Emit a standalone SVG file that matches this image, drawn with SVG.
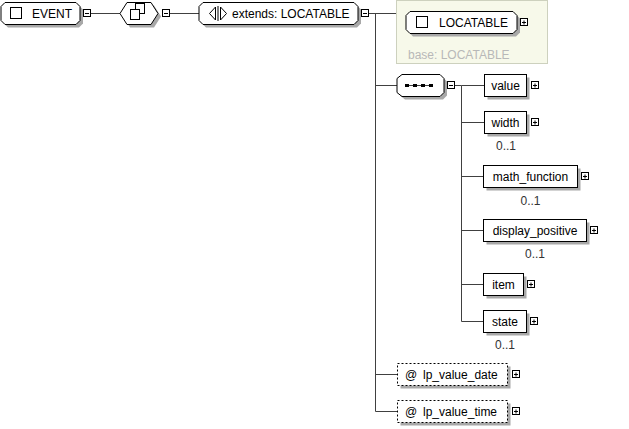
<svg xmlns="http://www.w3.org/2000/svg" width="629" height="429" viewBox="0 0 629 429">
<style>
text{font-family:"Liberation Sans",Arial,sans-serif;font-size:12px;fill:#000}
.nd{fill:#fff;stroke:#000;stroke-width:1}
.sh{fill:#a8a8a8;stroke:none}
.att{fill:#fff;stroke:#000;stroke-width:1;stroke-dasharray:2,2}
.bx{fill:#fff;stroke:#000;stroke-width:1}
.pm{fill:none;stroke:#000;stroke-width:1}
.cn{fill:none;stroke:#404040;stroke-width:1}
.oc{fill:#333}
.mid{text-anchor:middle}
.base{fill:#b8b8b8}
</style>
<rect width="629" height="429" fill="#fff"/>
<g id="connectors">
<path class="cn" d="M91,13.5H120M170,13.5H199M369,13.5H396.5M375.5,13.5V411.5M375.5,85.5H397M375.5,374.5H397.5M375.5,411.5H397.5"/>
<path class="cn" d="M454,85.5H461.5M461.5,85.5V321.5M461.5,122.5H484M461.5,176.5H484M461.5,230.5H484M461.5,284.5H484M461.5,321.5H484M461.5,85.5H484"/>
</g>
<g id="EVENT">
<path class="sh" d="M8,5.5H79L83,9.5V23.5L79,27.5H8L4,23.5V9.5Z"/>
<path class="nd" d="M5,2.5H76L80,6.5V20.5L76,24.5H5L1,20.5V6.5Z"/>
<rect class="bx" x="10.5" y="7.5" width="11" height="11"/>
<text x="32" y="18">EVENT</text>
<rect class="bx" x="83.5" y="9.5" width="7" height="7"/>
<path class="pm" d="M85,13.5H89"/>
</g>
<g id="all">
<path class="sh" d="M123,16.5L130,5.5H154L161,16.5L154,27.5H130Z"/>
<path class="nd" d="M120,13.5L127,2.5H151L158,13.5L151,24.5H127Z"/>
<rect class="bx" x="135.5" y="3.5" width="9" height="10"/>
<rect class="bx" x="130.5" y="9.5" width="9" height="10"/>
<rect class="bx" x="162.5" y="9.5" width="7" height="7"/>
<path class="pm" d="M164,13.5H168"/>
</g>
<g id="extends">
<path class="sh" d="M206,5.5H357L361,9.5V23.5L357,27.5H206L202,23.5V9.5Z"/>
<path class="nd" d="M203,2.5H354L358,6.5V20.5L354,24.5H203L199,20.5V6.5Z"/>
<path class="pm" d="M215.5,7L209.5,13.5L215.5,20ZM220.5,7L226.5,13.5L220.5,20ZM218,6V21"/>
<text x="232" y="18">extends: LOCATABLE</text>
<rect class="bx" x="361.5" y="9.5" width="7" height="7"/>
<path class="pm" d="M363,13.5H367"/>
</g>
<g id="LOCATABLE">
<rect x="396.5" y="0.5" width="151" height="63" fill="#f7f9ea" stroke="#cdd1be"/>
<path class="sh" d="M413,14.5H516L520,18.5V32.5L516,36.5H413L409,32.5V18.5Z"/>
<path class="nd" d="M410,11.5H513L517,15.5V29.5L513,33.5H410L406,29.5V15.5Z"/>
<rect class="bx" x="416.5" y="16.5" width="11" height="11"/>
<text x="439" y="27">LOCATABLE</text>
<rect class="bx" x="520.5" y="18.5" width="7" height="7"/>
<path class="pm" d="M522,22.5H526M524,20.5V24.5"/>
<text class="base" x="408" y="59">base: LOCATABLE</text>
</g>
<g id="sequence">
<path class="sh" d="M405,77.5H443L447,81.5V95.5L443,99.5H405L400,95.5V81.5Z"/>
<path class="nd" d="M402,74.5H440L444,78.5V92.5L440,96.5H402L397,92.5V78.5Z"/>
<path class="cn" stroke="#000" d="M405,85.5H433"/>
<rect x="405" y="84" width="4" height="3" fill="#000"/>
<rect x="413" y="84" width="4" height="3" fill="#000"/>
<rect x="421" y="84" width="4" height="3" fill="#000"/>
<rect x="429" y="84" width="4" height="3" fill="#000"/>
<rect class="bx" x="447.5" y="81.5" width="7" height="7"/>
<path class="pm" d="M449,85.5H453"/>
</g>
<g id="value">
<rect class="sh" x="487.5" y="77.5" width="42" height="22"/>
<rect class="nd" x="484.5" y="74.5" width="42" height="22"/>
<text class="mid" x="505.5" y="90">value</text>
<rect class="bx" x="531.5" y="81.5" width="7" height="7"/>
<path class="pm" d="M533,85.5H537M535,83.5V87.5"/>
</g>
<g id="width">
<rect class="sh" x="487.5" y="114.5" width="42" height="22"/>
<rect class="nd" x="484.5" y="111.5" width="42" height="22"/>
<text class="mid" x="505.5" y="127">width</text>
<rect class="bx" x="531.5" y="118.5" width="7" height="7"/>
<path class="pm" d="M533,122.5H537M535,120.5V124.5"/>
<text class="mid oc" x="506" y="150">0..1</text>
</g>
<g id="math_function">
<rect class="sh" x="486.5" y="168.5" width="94" height="22"/>
<rect class="nd" x="483.5" y="165.5" width="94" height="22"/>
<text class="mid" x="530.5" y="181">math_function</text>
<rect class="bx" x="581.5" y="172.5" width="7" height="7"/>
<path class="pm" d="M583,176.5H587M585,174.5V178.5"/>
<text class="mid oc" x="530.5" y="205">0..1</text>
</g>
<g id="display_positive">
<rect class="sh" x="486.5" y="222.5" width="103" height="22"/>
<rect class="nd" x="483.5" y="219.5" width="103" height="22"/>
<text class="mid" x="535" y="235">display_positive</text>
<rect class="bx" x="590.5" y="226.5" width="7" height="7"/>
<path class="pm" d="M592,230.5H596M594,228.5V232.5"/>
<text class="mid oc" x="535" y="258">0..1</text>
</g>
<g id="item">
<rect class="sh" x="486.5" y="276.5" width="40" height="22"/>
<rect class="nd" x="483.5" y="273.5" width="40" height="22"/>
<text class="mid" x="503.5" y="289">item</text>
<rect class="bx" x="527.5" y="280.5" width="7" height="7"/>
<path class="pm" d="M529,284.5H533M531,282.5V286.5"/>
</g>
<g id="state">
<rect class="sh" x="486.5" y="313.5" width="43" height="22"/>
<rect class="nd" x="483.5" y="310.5" width="43" height="22"/>
<text class="mid" x="505" y="326">state</text>
<rect class="bx" x="530.5" y="317.5" width="7" height="7"/>
<path class="pm" d="M532,321.5H536M534,319.5V323.5"/>
<text class="mid oc" x="505" y="349">0..1</text>
</g>
<g id="lp_value_date">
<rect class="sh" x="400.5" y="366.5" width="110" height="22"/>
<rect class="att" x="397.5" y="363.5" width="110" height="22"/>
<text x="405" y="379">@<tspan x="423">lp_value_date</tspan></text>
<rect class="bx" x="512.5" y="370.5" width="7" height="7"/>
<path class="pm" d="M514,374.5H518M516,372.5V376.5"/>
</g>
<g id="lp_value_time">
<rect class="sh" x="400.5" y="403.5" width="110" height="22"/>
<rect class="att" x="397.5" y="400.5" width="110" height="22"/>
<text x="405" y="416">@<tspan x="423">lp_value_time</tspan></text>
<rect class="bx" x="512.5" y="407.5" width="7" height="7"/>
<path class="pm" d="M514,411.5H518M516,409.5V413.5"/>
</g>
</svg>
